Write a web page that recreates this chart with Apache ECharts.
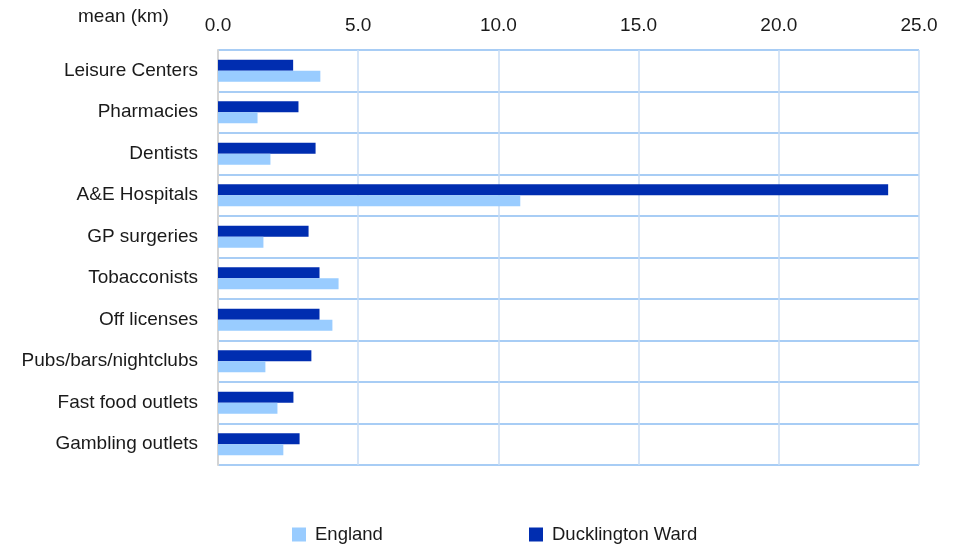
<!DOCTYPE html>
<html><head><meta charset="utf-8">
<script src="https://cdn.jsdelivr.net/npm/echarts@6/dist/echarts.min.js"></script>
<style>html,body{margin:0;padding:0;background:#fff}#c{width:957px;height:544px}</style>
</head><body><div id="c"></div>
<script>
const categories = ['Leisure Centers','Pharmacies','Dentists','A&E Hospitals','GP surgeries','Tobacconists','Off licenses','Pubs/bars/nightclubs','Fast food outlets','Gambling outlets'];
const england = [3.65, 1.41, 1.87, 10.78, 1.62, 4.30, 4.08, 1.69, 2.12, 2.33];
const ducklington = [2.68, 2.87, 3.48, 23.9, 3.23, 3.62, 3.62, 3.33, 2.69, 2.91];
const xTicks = [0, 5, 10, 15, 20, 25];

const chart = echarts.init(document.getElementById('c'));
const font = 'Liberation Sans, Arial, sans-serif';
const txt = '#1a1a1a';
const legendText = {fontFamily: font, fontSize: 18.5, color: txt, padding: [3, 0, 0, 4]};
chart.setOption({
  animation: false,
  textStyle: {fontFamily: font},
  grid: {left: 218, right: 38, top: 50, bottom: 79},
  legend: [
    {data: ['England'], left: 287, top: 520, itemWidth: 14, itemHeight: 14, icon: 'rect', textStyle: legendText},
    {data: ['Ducklington Ward'], left: 524, top: 520, itemWidth: 14, itemHeight: 14, icon: 'rect', textStyle: legendText}
  ],
  graphic: [{type: 'text', left: 78, top: 7, style: {text: 'mean (km)', font: '19px ' + font, fill: txt}}],
  xAxis: {
    type: 'value', position: 'top', min: xTicks[0], max: xTicks[xTicks.length-1], interval: 5,
    axisLine: {show: false}, axisTick: {show: false},
    axisLabel: {formatter: v => v.toFixed(1), fontSize: 19, color: txt, margin: 15, fontFamily: font},
    splitLine: {lineStyle: {color: '#c8dcf5', width: 1.5}}
  },
  yAxis: {
    type: 'category', data: categories, inverse: true,
    axisLine: {lineStyle: {color: '#d4d4d4', width: 2}}, axisTick: {show: false},
    axisLabel: {fontSize: 19, color: txt, margin: 20, fontFamily: font},
    splitLine: {show: true, lineStyle: {color: '#a8cdf5', width: 2}}
  },
  series: [
    {name: 'Ducklington Ward', type: 'bar', data: ducklington, barWidth: 11, barGap: '0%', itemStyle: {color: '#002db0'}},
    {name: 'England', type: 'bar', data: england, barWidth: 11, barGap: '0%', itemStyle: {color: '#99ccff'}}
  ]
});
</script></body></html>
